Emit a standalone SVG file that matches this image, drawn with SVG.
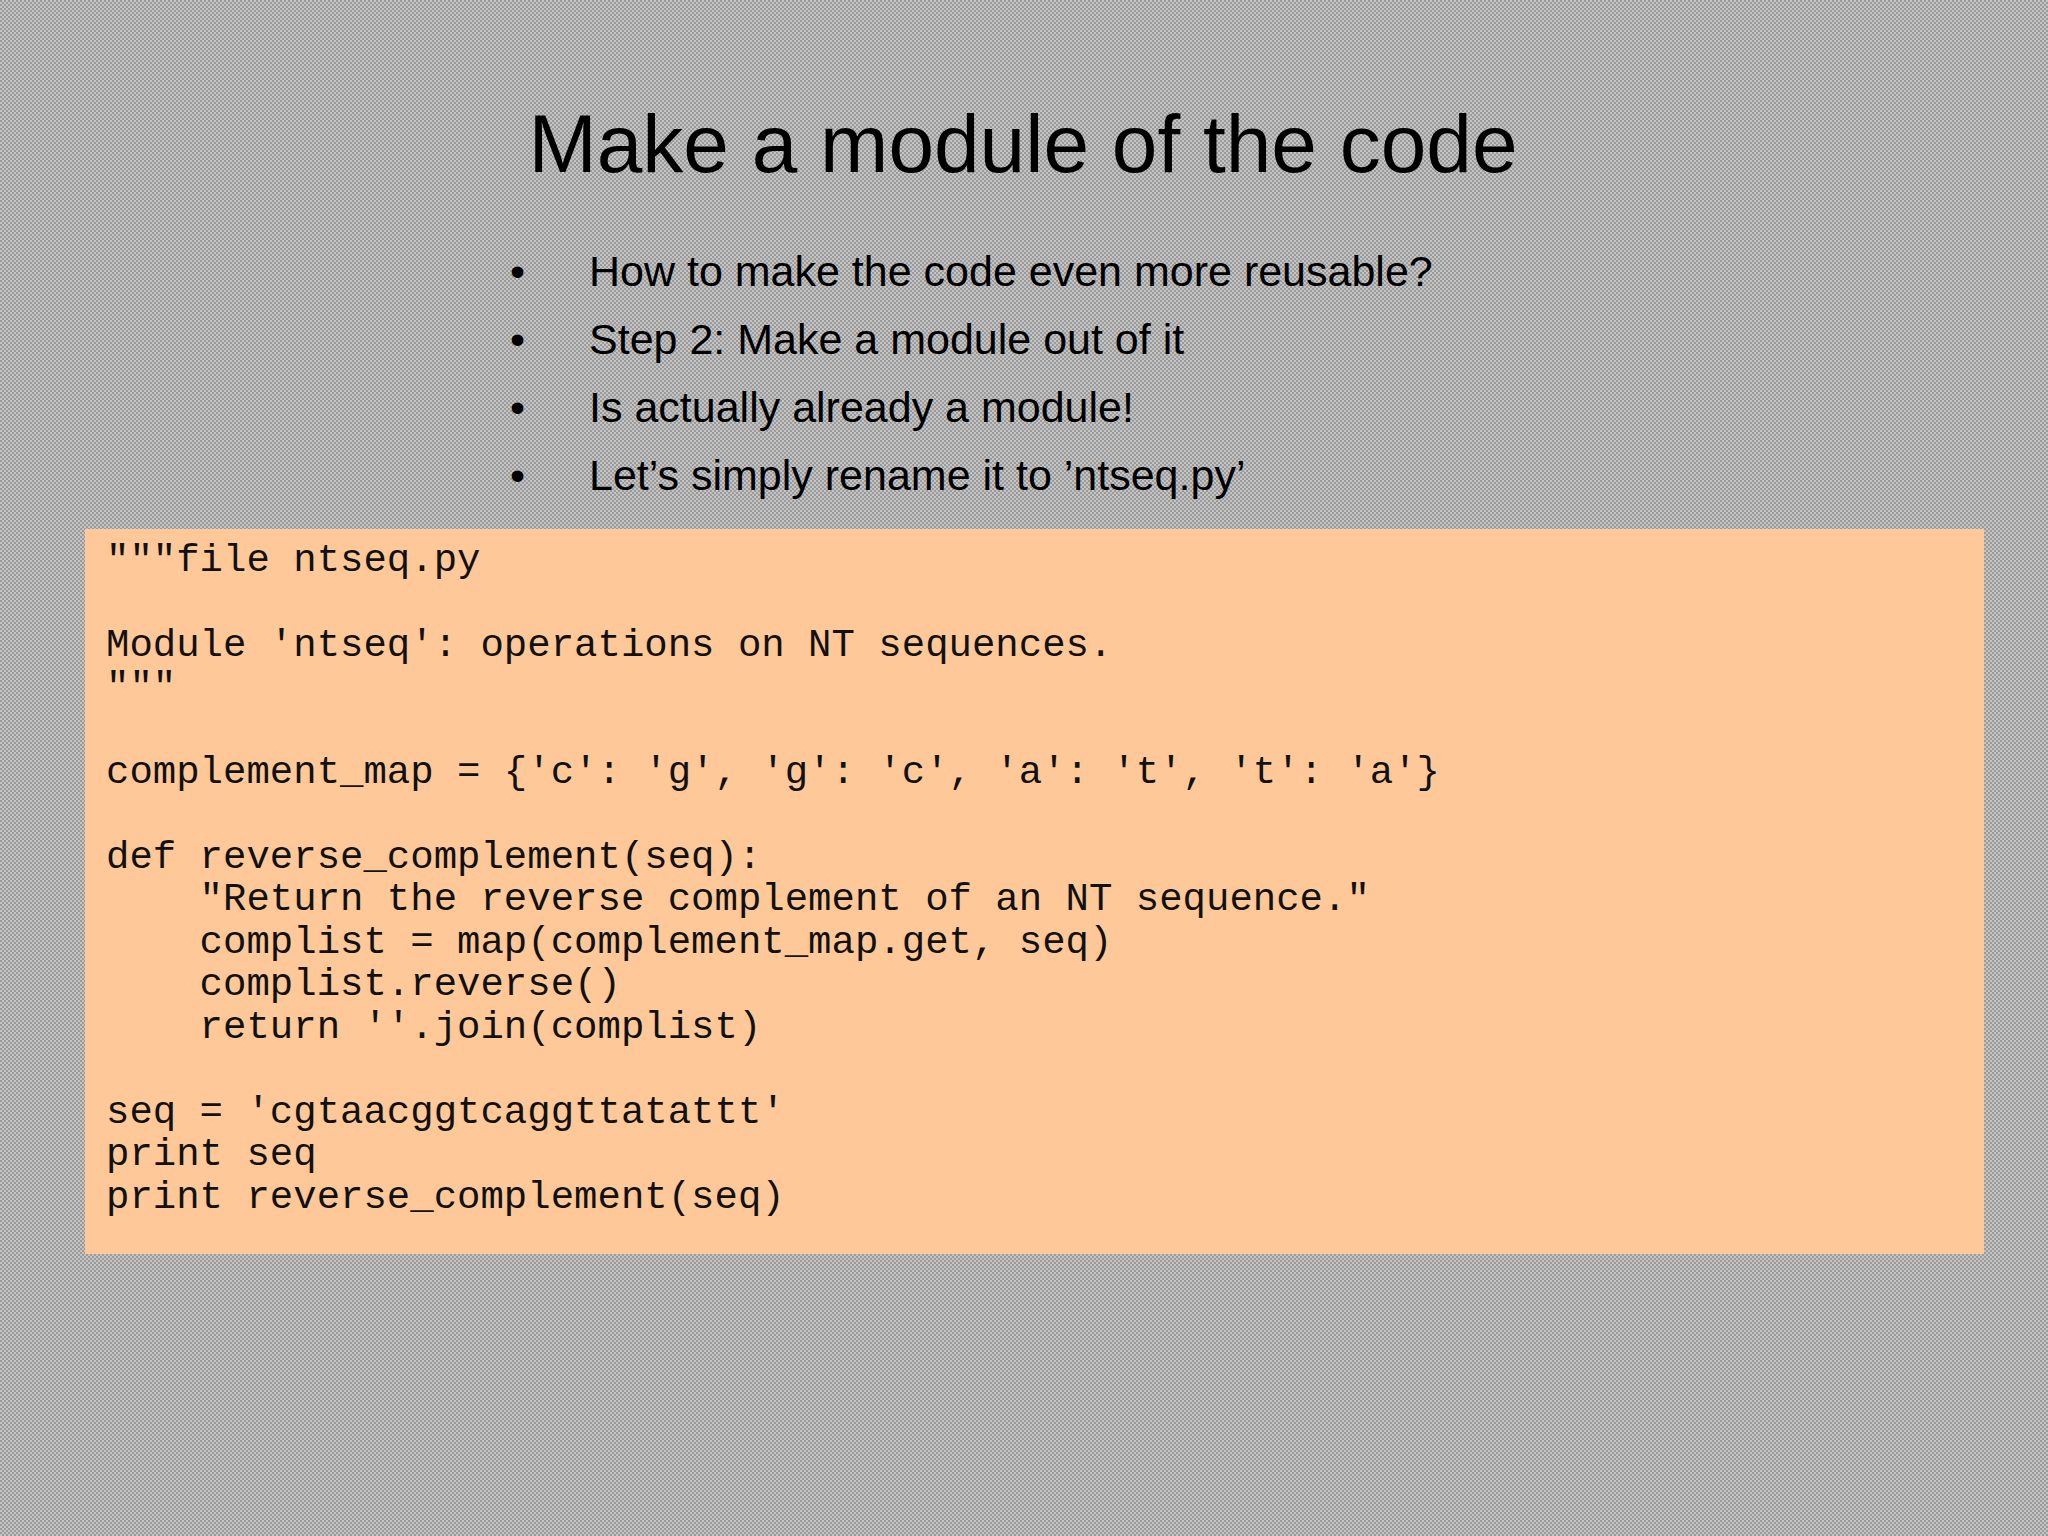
<svg xmlns="http://www.w3.org/2000/svg" width="2048" height="1536" viewBox="0 0 2048 1536">
<defs>
<pattern id="bg" width="4" height="4" patternUnits="userSpaceOnUse">
<rect width="4" height="4" fill="#c4c4c4"/>
<rect width="2" height="2" fill="#9a9a9a"/>
<rect x="2" y="2" width="2" height="2" fill="#9a9a9a"/>
</pattern>
<style>
.t{font-family:"Liberation Sans",Arial,sans-serif;fill:#000}
.c{font-family:"Liberation Mono","Courier New",monospace;font-size:39px;fill:#111;white-space:pre}
</style>
</defs>
<rect width="2048" height="1536" fill="url(#bg)"/>
<g id="title"><text class="t" x="1023" y="172" font-size="82" text-anchor="middle">Make a module of the code</text></g>
<g id="bullets" class="t" font-size="43">
<text x="510" y="286">•</text><text x="589" y="286">How to make the code even more reusable?</text>
<text x="510" y="354">•</text><text x="589" y="354">Step 2: Make a module out of it</text>
<text x="510" y="422">•</text><text x="589" y="422">Is actually already a module!</text>
<text x="510" y="490">•</text><text x="589" y="490">Let’s simply rename it to ’ntseq.py’</text>
</g>
<g id="code">
<rect x="85" y="529" width="1899" height="725" fill="#ffc898"/>
<text class="c" xml:space="preserve"><tspan x="106" y="571">"""file ntseq.py</tspan><tspan x="106" y="656">Module 'ntseq': operations on NT sequences.</tspan><tspan x="106" y="698">"""</tspan><tspan x="106" y="783">complement_map = {'c': 'g', 'g': 'c', 'a': 't', 't': 'a'}</tspan><tspan x="106" y="868">def reverse_complement(seq):</tspan><tspan x="106" y="910">    "Return the reverse complement of an NT sequence."</tspan><tspan x="106" y="953">    complist = map(complement_map.get, seq)</tspan><tspan x="106" y="995">    complist.reverse()</tspan><tspan x="106" y="1038">    return ''.join(complist)</tspan><tspan x="106" y="1123">seq = 'cgtaacggtcaggttatattt'</tspan><tspan x="106" y="1165">print seq</tspan><tspan x="106" y="1208">print reverse_complement(seq)</tspan></text>
</g>
</svg>
